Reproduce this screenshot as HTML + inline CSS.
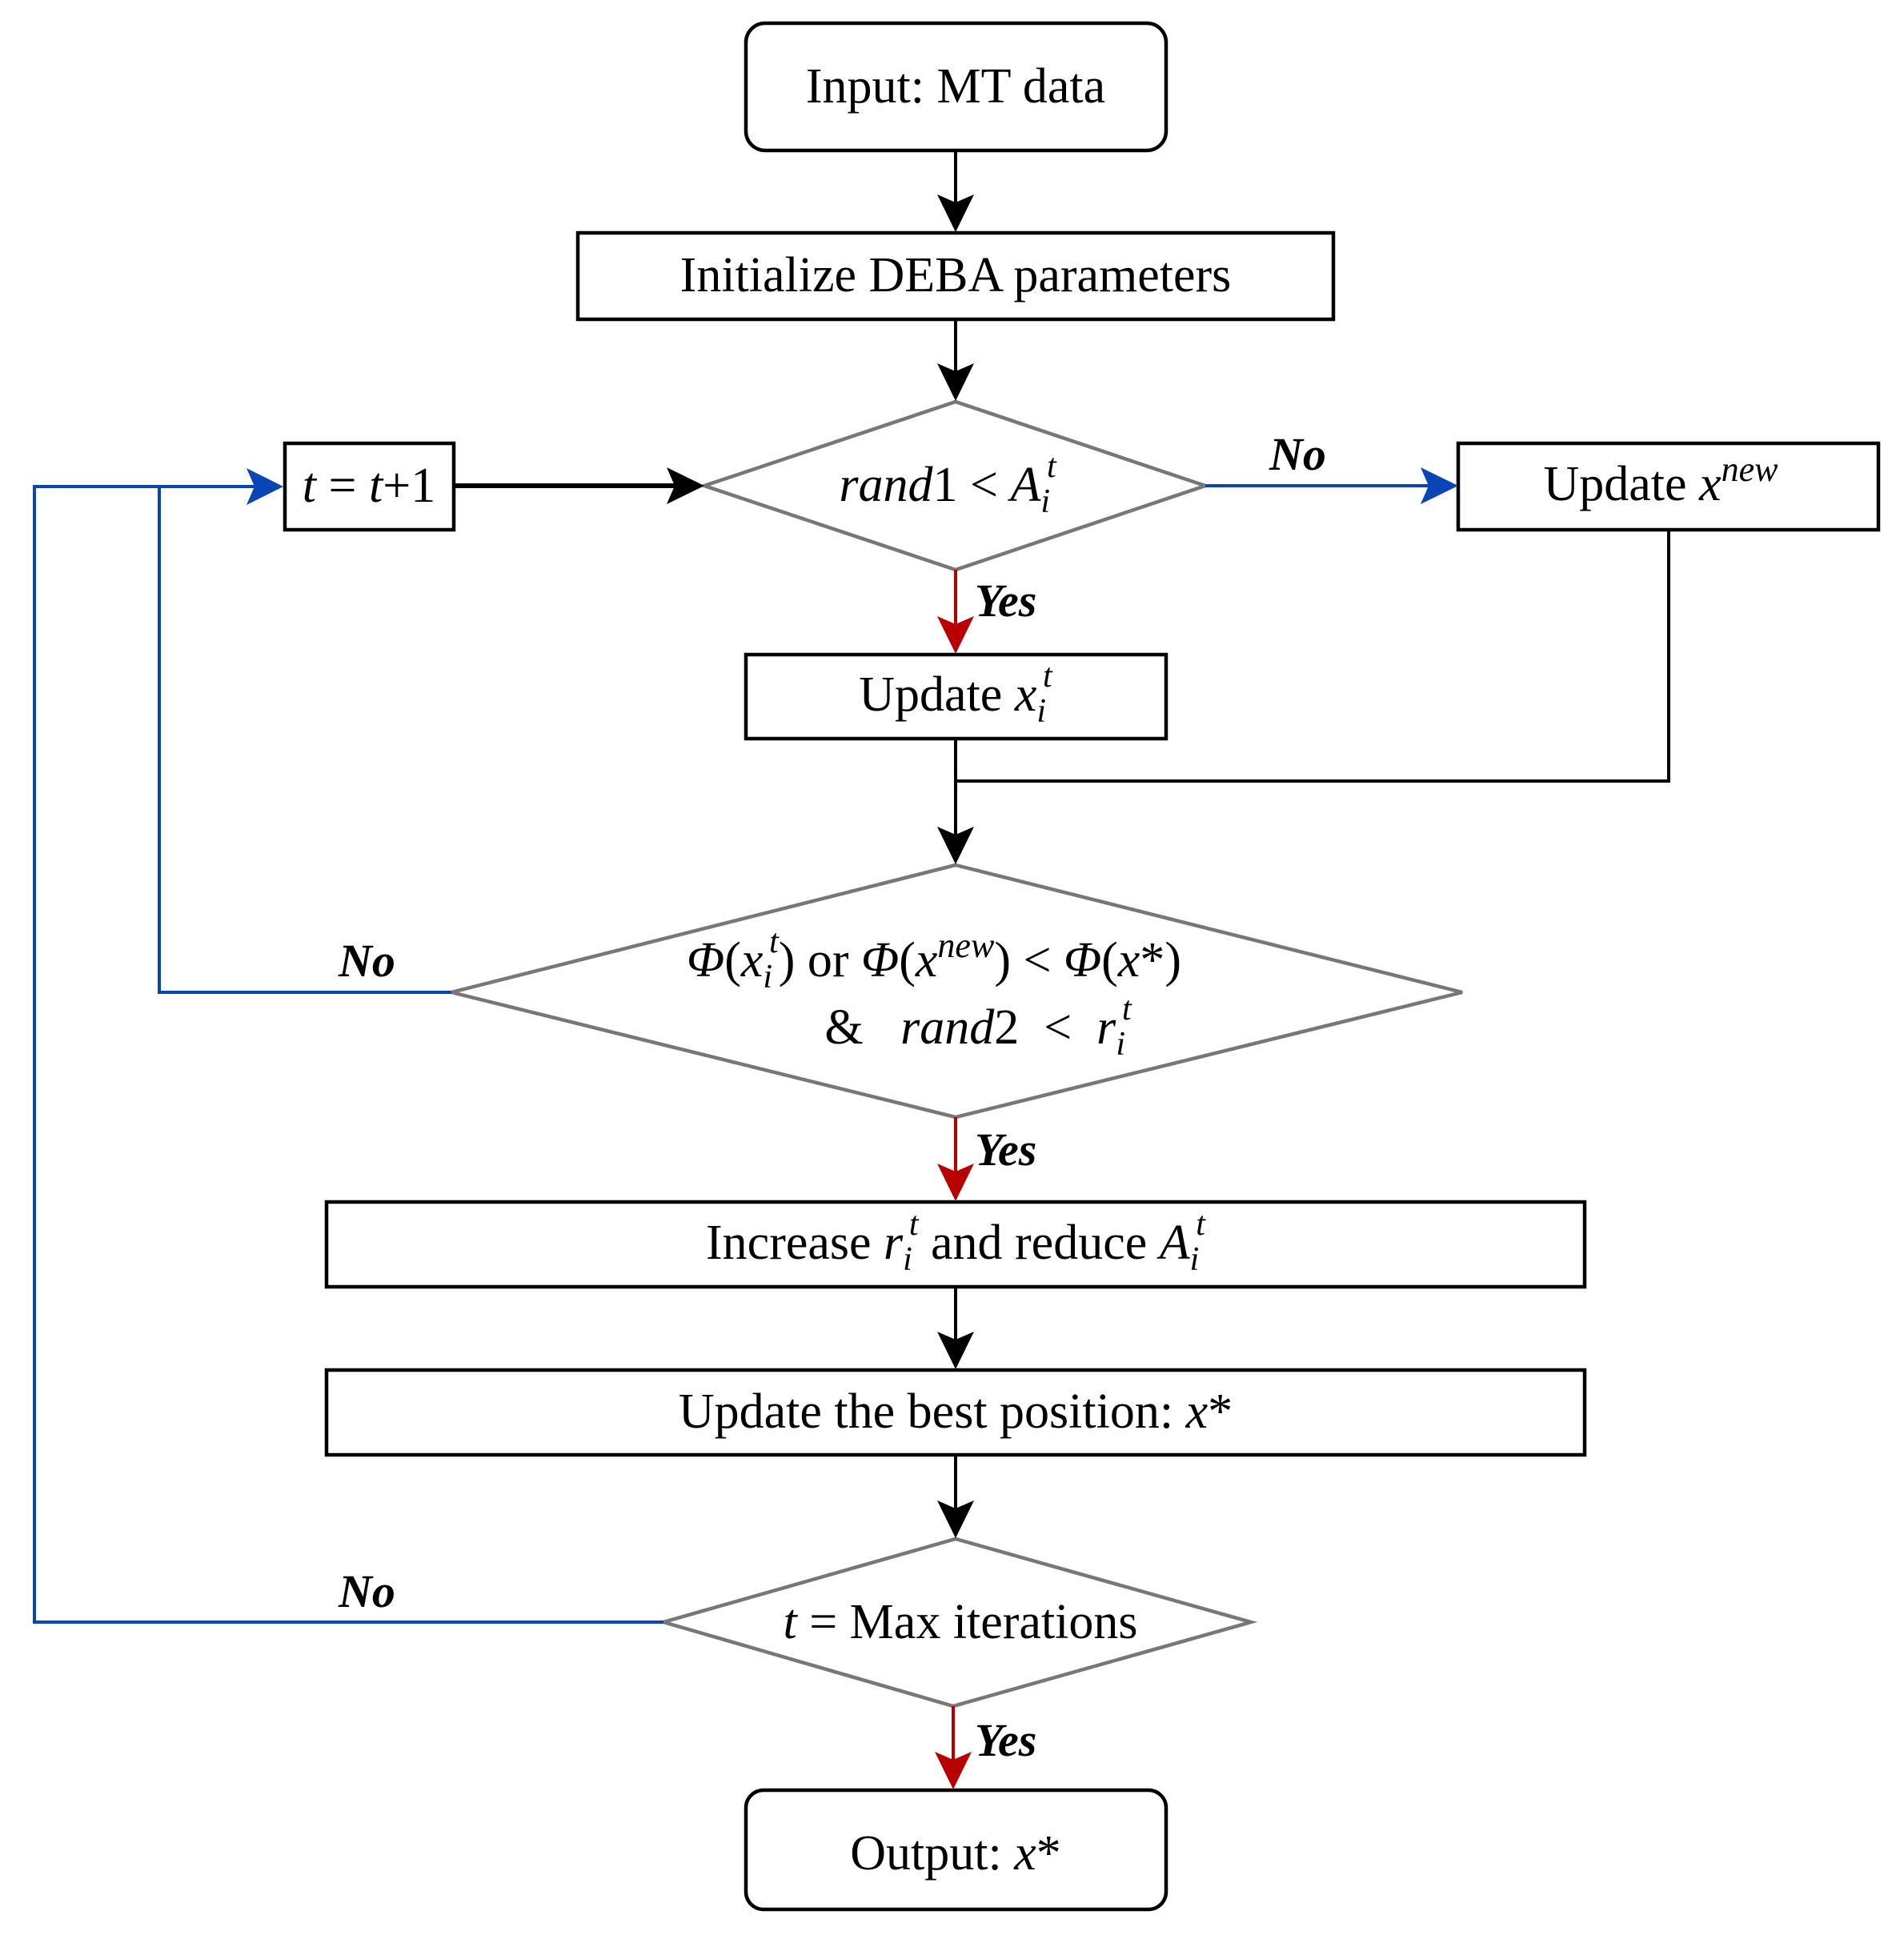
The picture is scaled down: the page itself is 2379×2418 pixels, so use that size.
<!DOCTYPE html>
<html><head><meta charset="utf-8"><style>
html,body{margin:0;padding:0;background:#fff}
svg{display:block}
text{font-family:"Liberation Serif",serif;font-size:62px;fill:#000}
.it{font-style:italic}
.lbl{font-style:italic;font-weight:bold;font-size:58px}
</style></head><body>
<svg width="2379" height="2418" viewBox="0 0 2379 2418" xmlns="http://www.w3.org/2000/svg">
<g fill="none" stroke="#000" stroke-width="4.5">
<rect x="932" y="29" width="525" height="159" rx="24"/>
<rect x="722" y="291" width="944" height="108"/>
<rect x="356" y="554" width="211" height="108"/>
<rect x="1822" y="554" width="525" height="108"/>
<rect x="932" y="818" width="525" height="105"/>
<rect x="408" y="1502" width="1572" height="106"/>
<rect x="408" y="1712" width="1572" height="106"/>
<rect x="932" y="2237" width="525" height="149" rx="22"/>
</g>
<g fill="none" stroke="#777" stroke-width="4.5">
<polygon points="1194,502 1506,607 1194,712 880,607"/>
<polygon points="1194,1081 1827,1240 1194,1396 564,1240"/>
<polygon points="1194,1923 1563,2027 1191,2132 829,2027"/>
</g>
<g stroke="#000" stroke-width="4" fill="none">
<line x1="1194" y1="188" x2="1194" y2="260"/>
<line x1="1194" y1="399" x2="1194" y2="470"/>
<line x1="567" y1="607" x2="850" y2="607" stroke-width="6"/>
<line x1="1194" y1="923" x2="1194" y2="1050"/>
<polyline points="1194,976 2085,976 2085,662"/>
<line x1="1194" y1="1608" x2="1194" y2="1680"/>
<line x1="1194" y1="1818" x2="1194" y2="1890"/>
</g>
<g fill="#000">
<path d="M1194,290 L1171,243 L1194,253 L1217,243 Z"/>
<path d="M1194,501 L1171,454 L1194,464 L1217,454 Z"/>
<path d="M880,607 L833,584 L843,607 L833,630 Z"/>
<path d="M1194,1080 L1171,1033 L1194,1043 L1217,1033 Z"/>
<path d="M1194,1711 L1171,1664 L1194,1674 L1217,1664 Z"/>
<path d="M1194,1922 L1171,1875 L1194,1885 L1217,1875 Z"/>
</g>
<g stroke="#b80000" stroke-width="4" fill="none">
<line x1="1194" y1="712" x2="1194" y2="790"/>
<line x1="1194" y1="1396" x2="1194" y2="1475"/>
<line x1="1191" y1="2132" x2="1191" y2="2210"/>
</g>
<g fill="#b80000">
<path d="M1194,817 L1171,770 L1194,780 L1217,770 Z"/>
<path d="M1194,1501 L1171,1454 L1194,1464 L1217,1454 Z"/>
<path d="M1191,2236 L1168,2189 L1191,2199 L1214,2189 Z"/>
</g>
<g stroke="#0a45b5" stroke-width="4" fill="none">
<line x1="1506" y1="607" x2="1790" y2="607"/>
<polyline points="564,1240 199,1240 199,608 320,608"/>
<polyline points="829,2027 43,2027 43,608 199,608"/>
</g>
<g fill="#0a45b5">
<path d="M1822,607 L1775,584 L1785,607 L1775,630 Z"/>
<path d="M354,608 L308,585 L318,608 L308,631 Z"/>
</g>
<text x="1194" y="128" text-anchor="middle">Input: MT data</text>
<text x="1194" y="364" text-anchor="middle">Initialize DEBA parameters</text>
<text x="461" y="627" text-anchor="middle"><tspan class="it">t</tspan> = <tspan class="it">t</tspan>+1</text>
<text x="1184" y="626" text-anchor="middle"><tspan class="it">rand</tspan>1 &lt; <tspan class="it">A</tspan><tspan class="it" font-size="42" dy="14">i</tspan><tspan class="it" font-size="42" dx="-4" dy="-44">t</tspan></text>
<text x="2075" y="625" text-anchor="middle">Update <tspan class="it">x</tspan><tspan class="it" font-size="44" dy="-24">new</tspan></text>
<text x="1194" y="888" text-anchor="middle">Update <tspan class="it">x</tspan><tspan class="it" font-size="42" dy="14">i</tspan><tspan class="it" font-size="42" dx="-4" dy="-44">t</tspan></text>
<text x="1167" y="1220" text-anchor="middle"><tspan class="it">Φ</tspan>(<tspan class="it">x</tspan><tspan class="it" font-size="42" dy="14">i</tspan><tspan class="it" font-size="42" dx="-4" dy="-44">t</tspan><tspan dy="30">) or </tspan><tspan class="it">Φ</tspan>(<tspan class="it">x</tspan><tspan class="it" font-size="44" dy="-24">new</tspan><tspan dy="24">) &lt; </tspan><tspan class="it">Φ</tspan>(<tspan class="it">x</tspan>*)</text>
<text x="1222" y="1304" text-anchor="middle" xml:space="preserve">&amp;   <tspan class="it">rand</tspan>2  &lt;  <tspan class="it">r</tspan><tspan class="it" font-size="42" dy="14">i</tspan><tspan class="it" font-size="42" dx="-4" dy="-44">t</tspan></text>
<text x="1194" y="1573" text-anchor="middle">Increase <tspan class="it">r</tspan><tspan class="it" font-size="42" dy="14">i</tspan><tspan class="it" font-size="42" dx="-4" dy="-44">t</tspan><tspan dy="30"> and reduce </tspan><tspan class="it">A</tspan><tspan class="it" font-size="42" dy="14">i</tspan><tspan class="it" font-size="42" dx="-4" dy="-44">t</tspan></text>
<text x="1194" y="1784" text-anchor="middle">Update the best  position: <tspan class="it">x</tspan>*</text>
<text x="1200" y="2047" text-anchor="middle"><tspan class="it">t</tspan> = Max iterations</text>
<text x="1194" y="2336" text-anchor="middle">Output: <tspan class="it">x</tspan>*</text>
<text class="lbl" x="1586" y="587">No</text>
<text class="lbl" x="1218" y="770">Yes</text>
<text class="lbl" x="423" y="1220">No</text>
<text class="lbl" x="1218" y="1456">Yes</text>
<text class="lbl" x="423" y="2008">No</text>
<text class="lbl" x="1218" y="2194">Yes</text>
</svg>
</body></html>
